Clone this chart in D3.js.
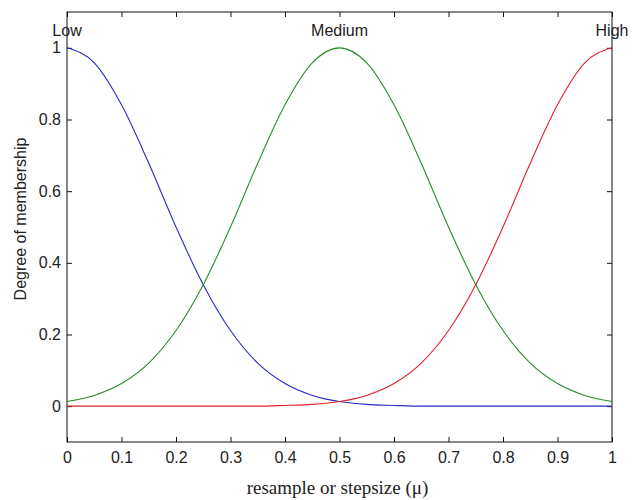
<!DOCTYPE html>
<html>
<head>
<meta charset="utf-8">
<script src="https://cdn.jsdelivr.net/npm/d3@7"></script>
<style>
  body { margin: 0; background: #fff; }
  svg text { font-family: "Liberation Sans", Arial, sans-serif; fill: #222; }
</style>
</head>
<body>
<svg id="chart" width="635" height="500"></svg>
<script>
const xs = [0, 0.05, 0.1, 0.15, 0.2, 0.25, 0.3, 0.35, 0.4, 0.45, 0.5,
            0.55, 0.6, 0.65, 0.7, 0.75, 0.8, 0.85, 0.9, 0.95, 1];
const low = [1, 0.958, 0.841, 0.678, 0.5, 0.339, 0.211, 0.12, 0.063, 0.03, 0.013,
             0.005, 0.002, 0, 0, 0, 0, 0, 0, 0, 0];
const medium = [0.013, 0.03, 0.063, 0.12, 0.211, 0.339, 0.5, 0.678, 0.841, 0.958, 1,
                0.958, 0.841, 0.678, 0.5, 0.339, 0.211, 0.12, 0.063, 0.03, 0.013];
const high = [0, 0, 0, 0, 0, 0, 0, 0, 0.002, 0.005, 0.013,
              0.03, 0.063, 0.12, 0.211, 0.339, 0.5, 0.678, 0.841, 0.958, 1];
const mfNames = ["Low", "Medium", "High"];
const mfCenters = [0, 0.5, 1];
const xTicks = [0, 0.1, 0.2, 0.3, 0.4, 0.5, 0.6, 0.7, 0.8, 0.9, 1];
const yTicks = [0, 0.2, 0.4, 0.6, 0.8, 1];

const margin = {top: 12, right: 23, bottom: 58, left: 67};
const W = 635, H = 500;
const w = W - margin.left - margin.right;
const h = H - margin.top - margin.bottom;

const svg = d3.select("#chart");
const g = svg.append("g").attr("transform", `translate(${margin.left},${margin.top})`);

const x = d3.scaleLinear().domain([0, 1]).range([0, w]);
const y = d3.scaleLinear().domain([-0.1, 1.1]).range([h, 0]);

const fmt = d => d === 0 ? "0" : d === 1 ? "1" : d3.format(".1f")(d);

// axes, ticks pointing inward like matlab
g.append("g").attr("transform", `translate(0,${h})`)
  .call(d3.axisBottom(x).tickValues(xTicks).tickFormat(fmt).tickSizeInner(-5).tickSizeOuter(0).tickPadding(9.6));
g.append("g")
  .call(d3.axisTop(x).tickValues(xTicks).tickFormat("").tickSizeInner(-5).tickSizeOuter(0));
g.append("g")
  .call(d3.axisLeft(y).tickValues(yTicks).tickFormat(fmt).tickSizeInner(-5).tickSizeOuter(0).tickPadding(6));
g.append("g").attr("transform", `translate(${w},0)`)
  .call(d3.axisRight(y).tickValues(yTicks).tickFormat("").tickSizeInner(-5).tickSizeOuter(0));

g.selectAll(".domain").remove();
g.selectAll(".tick line").attr("stroke", "#111");
g.selectAll(".tick text").attr("font-size", 16).attr("fill", "#222")
  .attr("font-family", "Liberation Sans, Arial, sans-serif");

g.append("rect")
  .attr("width", w).attr("height", h)
  .attr("fill", "none").attr("stroke", "#111").attr("stroke-width", 1);

// curves
const line = d3.line()
  .x((d, i) => x(xs[i]))
  .y(d => y(d))
  .curve(d3.curveMonotoneX);

const series = [
  {vals: low, color: "#2a2ac8"},
  {vals: medium, color: "#2a8a2a"},
  {vals: high, color: "#e0202e"}
];
g.selectAll(".mf").data(series).enter().append("path")
  .attr("class", "mf")
  .attr("d", d => line(d.vals))
  .attr("fill", "none")
  .attr("stroke", d => d.color)
  .attr("stroke-width", 1.1);

// mf names above the peaks
g.selectAll(".mfname").data(mfNames).enter().append("text")
  .attr("class", "mfname")
  .attr("x", (d, i) => x(mfCenters[i]))
  .attr("y", 24)
  .attr("text-anchor", "middle")
  .attr("font-size", 16)
  .text(d => d);

// axis labels
svg.append("text")
  .attr("transform", `translate(26,${margin.top + h / 2 - 8}) rotate(-90)`)
  .attr("text-anchor", "middle")
  .attr("font-size", 16)
  .text("Degree of membership");

svg.append("text")
  .attr("x", margin.left + w / 2 - 2)
  .attr("y", 494)
  .attr("text-anchor", "middle")
  .attr("font-size", 19)
  .style("font-family", "Liberation Serif, Times New Roman, serif")
  .text("resample or stepsize (\u03bc)");
</script>
</body>
</html>
